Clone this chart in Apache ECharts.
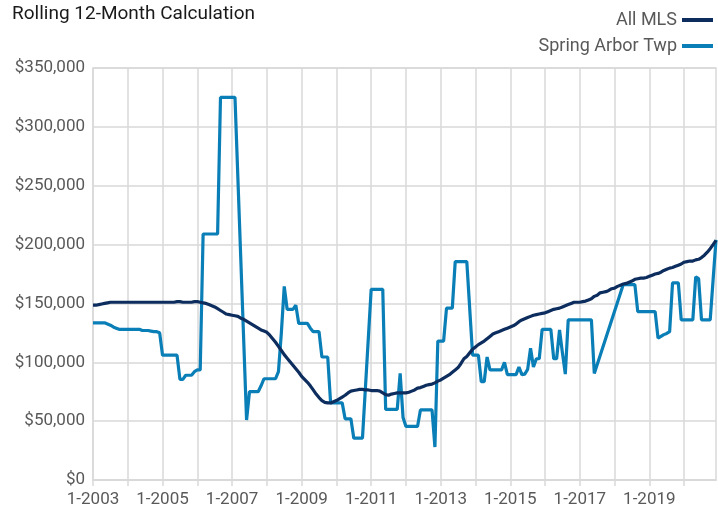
<!DOCTYPE html>
<html>
<head>
<meta charset="utf-8">
<script src="https://cdn.jsdelivr.net/npm/echarts@6/dist/echarts.min.js"></script>
<style>
  html, body { margin: 0; padding: 0; background: #fff; }
  #chart { width: 718px; height: 515px; }
</style>
</head>
<body>
<div id="chart"></div>
<script>
// monthly rolling 12-month values, Jan 2003 .. Dec 2020, in $ thousands
var startYear = 2003, endYear = 2020;
var seriesNames = ["All MLS", "Spring Arbor Twp"];

var allMlsK = [
  148.5,148.5,149,149.5,150,150.5,151,151,151,151,151,151,           // 2003
  151,151,151,151,151,151,151,151,151,151,151,151,                   // 2004
  151,151,151,151,151,151.5,151.5,151,151,151,151,151.5,             // 2005
  151.5,151,150.5,150,149,148,147,145.5,144,142.5,141,140.5,         // 2006
  140,139.5,139,137.5,136.5,135,133.5,132,130.5,129,127.5,126.5,     // 2007
  125.5,123,120,117,113.5,110,106.5,103.5,100.5,97.5,94.5,91.5,      // 2008
  88,85.5,83,80,76.5,73,70,67.5,66,65.5,65.5,66.5,                   // 2009
  67.5,69,70.5,72,74,75.5,76,76.5,77,77,76.5,76.5,                   // 2010
  76,76,76,75.5,74,72.5,72,73,73.5,74,74,74,                         // 2011
  74,74.5,75.5,76.5,78,78.5,79.5,80.5,81,81.5,82.5,84,               // 2012
  85,86.5,88,89.5,91.5,93.5,95.5,99,103,105,108,111,                 // 2013
  113,115,116.5,118,120,122,124,125,126,127,128,129,                 // 2014
  130,131,132.5,134.5,136,137,138,139,140,140.5,141,141.5,           // 2015
  142,143,144,145,145.5,146,147,148,149,150,151,151,                 // 2016
  151,151.5,152,153,154,156,157,159,159.5,160,161,162.5,             // 2017
  163,164.5,165.5,166.5,167,168,169,170.5,171,171.5,171.5,172,       // 2018
  173,174,175,175.5,176.5,178,179,180,180.5,181.5,182.5,183.5,       // 2019
  185,185.5,186,186,187,187.5,189,191,193.5,196.5,200,203.5          // 2020
];

// null = month not reported, the line is drawn straight across
var springArborK = [
  133.5,133.5,133.5,133.5,133.5,132.5,131.5,130,129,128,128,128,     // 2003
  128,128,128,128,128,127,127,127,126.5,126,126,125,                 // 2004
  106,106,106,106,106,106,85.5,85.5,89,89,89,92,                     // 2005
  93.5,93.5,209,209,209,209,209,209,325,325,325,325,                 // 2006
  325,325,null,null,null,51,75,75,75,75,80,86,                       // 2007
  86,86,86,86,92,125,164.5,145,145,145,148.5,133,                    // 2008
  133,133,133,129,126,126,126,104.5,104.5,104.5,65.5,65.5,           // 2009
  65.5,65.5,65.5,52,52,52,35.5,35.5,35.5,35.5,null,null,             // 2010
  162,162,162,162,162,60,60,60,60,60,90.5,53,                        // 2011
  45.5,45.5,45.5,45.5,45.5,59.5,59.5,59.5,59.5,59.5,28,118,          // 2012
  118,118,146,146,146,185.5,185.5,185.5,185.5,185.5,null,106,        // 2013
  106,106,83.5,83.5,104.5,93.5,93.5,93.5,93.5,93.5,100,89.5,         // 2014
  89.5,89.5,89.5,96,89.5,90,94,112,96,103,103,128,                   // 2015
  128,128,128,103,103,127.5,108,90,136,136,136,136,                  // 2016
  136,136,136,136,136,90.5,null,null,null,null,null,null,            // 2017
  null,null,null,166,166,166,166,166,143,143,143,143,                // 2018
  143,143,143,120.5,122,123.5,124.5,126,167.5,167.5,167.5,136,       // 2019
  136,136,136,136,172.5,171,136,136,136,136,170,204                  // 2020
];

var yTicks = [0, 50000, 100000, 150000, 200000, 250000, 300000, 350000];

// category labels "M-YYYY"
var months = [];
for (var y = startYear; y <= endYear; y++) {
  for (var m = 1; m <= 12; m++) months.push(m + "-" + y);
}

function toDollars(arr) {
  return arr.map(function (v) { return v == null ? null : Math.round(v * 1000); });
}
function money(v) {
  return "$" + String(v).replace(/\B(?=(\d{3})+(?!\d))/g, ",");
}

var FONT = "'Liberation Sans Narrow', 'Roboto', sans-serif";
var GRID_COLOR = "#d9d9d9";

var chart = echarts.init(document.getElementById("chart"));
var option = {
  animation: false,
  backgroundColor: "#fff",
  title: {
    text: "Rolling 12-Month Calculation",
    left: 7,
    top: 0,
    textStyle: { fontFamily: FONT, fontSize: 19, fontWeight: "normal", color: "#1a1a1a" }
  },
  legend: {
    orient: "vertical",
    right: 0,
    top: 6,
    align: "right",
    icon: "rect",
    itemWidth: 31,
    itemHeight: 4,
    itemGap: 8,
    textStyle: { fontFamily: FONT, fontSize: 18, color: "#595959" },
    data: seriesNames
  },
  grid: {
    left: 93, right: 2, top: 68, bottom: 35,
    show: true, borderColor: GRID_COLOR, borderWidth: 1.5
  },
  xAxis: {
    type: "category",
    data: months,
    boundaryGap: false,
    axisLine: { lineStyle: { color: GRID_COLOR, width: 1.5 } },
    axisTick: {
      length: 6,
      interval: function (i) { return i % 12 === 0; },
      lineStyle: { color: GRID_COLOR, width: 1.5 }
    },
    axisLabel: {
      interval: function (i) { return i % 24 === 0; },
      fontFamily: FONT, fontSize: 17, color: "#595959", margin: 11
    },
    splitLine: {
      show: true,
      interval: function (i) { return i % 12 === 0; },
      lineStyle: { color: GRID_COLOR, width: 1.5 }
    }
  },
  yAxis: {
    type: "value",
    min: yTicks[0],
    max: yTicks[yTicks.length - 1],
    interval: yTicks[1] - yTicks[0],
    axisLine: { show: false },
    axisTick: { show: false },
    axisLabel: { formatter: money, fontFamily: FONT, fontSize: 17, color: "#595959", margin: 8 },
    splitLine: { lineStyle: { color: GRID_COLOR, width: 1.5 } }
  },
  series: [
    {
      name: seriesNames[0],
      type: "line",
      data: toDollars(allMlsK),
      symbol: "none",
      z: 3,
      lineStyle: { color: "#0c2d5e", width: 3.2 },
      itemStyle: { color: "#0c2d5e" }
    },
    {
      name: seriesNames[1],
      type: "line",
      data: toDollars(springArborK),
      connectNulls: true,
      symbol: "none",
      z: 2,
      lineStyle: { color: "#0a7eb6", width: 3.2 },
      itemStyle: { color: "#0a7eb6" }
    }
  ]
};
chart.setOption(option);
window.onresize = function () { chart.resize(); };
</script>
</body>
</html>
